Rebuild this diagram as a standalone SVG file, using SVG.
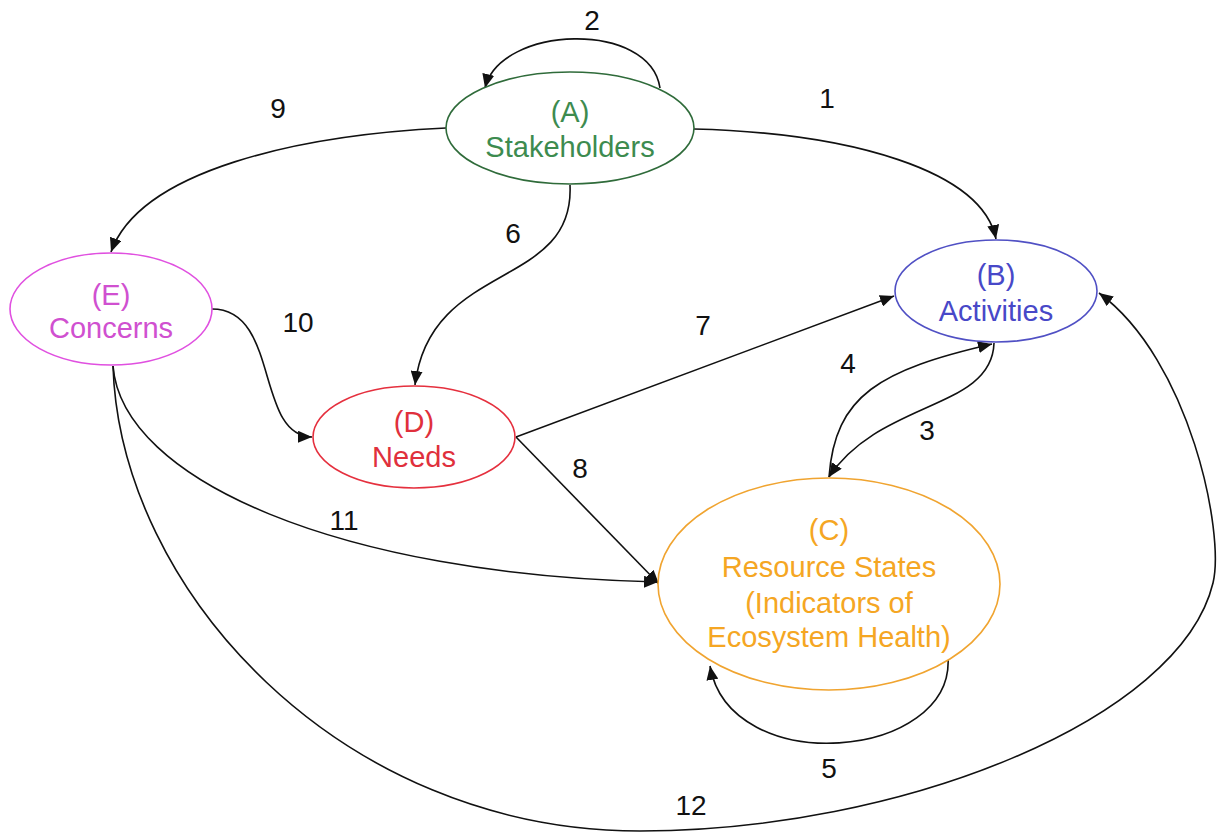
<svg xmlns="http://www.w3.org/2000/svg" width="1217" height="832" viewBox="0 0 1217 832">
<style>
.node ellipse{fill:#ffffff;stroke-width:1.6}
.node text{font-family:"Liberation Sans",Arial,sans-serif;font-size:29px;text-anchor:middle}
.edge{fill:none;stroke:#111111;stroke-width:1.6}
.lbl{font-family:"Liberation Sans",Arial,sans-serif;font-size:28px;text-anchor:middle;fill:#111111}
</style>
<defs>
<marker id="arr" markerUnits="userSpaceOnUse" markerWidth="14" markerHeight="12" viewBox="0 0 14 12" refX="14" refY="6" orient="auto">
<path d="M0,0 L14,6 L0,12 z" fill="#111111"/>
</marker>
</defs>
<rect width="1217" height="832" fill="#ffffff"/>
<g id="connectors">
<path class="edge" d="M694,129 C850,133 982,170 996,239" marker-end="url(#arr)"/>
<path class="edge" d="M660,88 C650,20 500,25 485,88" marker-end="url(#arr)"/>
<path class="edge" d="M446,128 C300,135 140,170 111,252" marker-end="url(#arr)"/>
<path class="edge" d="M570,185 C575,290 430,260 415,385" marker-end="url(#arr)"/>
<path class="edge" d="M212,309 C280,309 255,436 312,437" marker-end="url(#arr)"/>
<path class="edge" d="M516,437 L894,296" marker-end="url(#arr)"/>
<path class="edge" d="M516,437 L659,584" marker-end="url(#arr)"/>
<path class="edge" d="M113,366 C122,480 340,575 658,582" marker-end="url(#arr)"/>
<path class="edge" d="M113,366 C120,590 340,831 640,831 C900,831 1180,720 1213,583 C1225,533 1190,360 1099,293" marker-end="url(#arr)"/>
<path class="edge" d="M829,477 C835,395 880,370 992,344" marker-end="url(#arr)"/>
<path class="edge" d="M994,343 C992,410 880,400 829,477" marker-end="url(#arr)"/>
<path class="edge" d="M948,657 C955,760 730,780 710,666" marker-end="url(#arr)"/>
<text class="lbl" x="827" y="108">1</text>
<text class="lbl" x="592" y="30">2</text>
<text class="lbl" x="927" y="440">3</text>
<text class="lbl" x="848" y="373">4</text>
<text class="lbl" x="829" y="778">5</text>
<text class="lbl" x="513" y="243">6</text>
<text class="lbl" x="703" y="335">7</text>
<text class="lbl" x="580" y="478">8</text>
<text class="lbl" x="278" y="118">9</text>
<text class="lbl" x="298" y="332">10</text>
<text class="lbl" x="344" y="530">11</text>
<text class="lbl" x="691" y="815">12</text>
</g>
<g id="nodeA" class="node">
<ellipse cx="570" cy="128" rx="124" ry="56" stroke="#2f6b3a"/>
<text x="570" y="122" fill="#3d8b4f">(A)</text>
<text x="570" y="157" fill="#3d8b4f">Stakeholders</text>
</g>
<g id="nodeB" class="node">
<ellipse cx="996" cy="291" rx="101" ry="51" stroke="#5050c4"/>
<text x="996" y="285" fill="#4848c8">(B)</text>
<text x="996" y="321" fill="#4848c8">Activities</text>
</g>
<g id="nodeC" class="node">
<ellipse cx="829" cy="584" rx="171" ry="106" stroke="#f0a430"/>
<text x="829" y="540" fill="#f5a623">(C)</text>
<text x="829" y="577" fill="#f5a623">Resource States</text>
<text x="829" y="613" fill="#f5a623">(Indicators of</text>
<text x="829" y="647" fill="#f5a623">Ecosystem Health)</text>
</g>
<g id="nodeD" class="node">
<ellipse cx="414" cy="437" rx="101" ry="51" stroke="#e5303e"/>
<text x="414" y="432" fill="#e0303c">(D)</text>
<text x="414" y="467" fill="#e0303c">Needs</text>
</g>
<g id="nodeE" class="node">
<ellipse cx="111" cy="309" rx="101" ry="56" stroke="#e050e0"/>
<text x="111" y="305" fill="#d050d0">(E)</text>
<text x="111" y="338" fill="#d050d0">Concerns</text>
</g>
</svg>
